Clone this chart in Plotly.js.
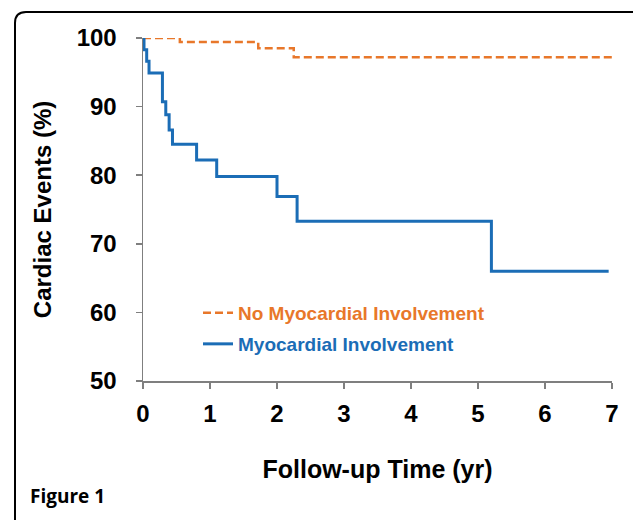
<!DOCTYPE html>
<html>
<head>
<meta charset="utf-8">
<script src="https://cdn.plot.ly/plotly-3.0.1.min.js"></script>
<style>
html,body{margin:0;padding:0;background:#fff;}
#chart{width:633px;height:520px;}
</style>
</head>
<body>
<div id="chart"></div>
<script>
// Data
const noInvolvementTime = [0, 0.55, 1.72, 2.25, 7.0];
const noInvolvementPct  = [100, 99.4, 98.5, 97.2, 97.2];

const involvementTime = [0, 0.015, 0.055, 0.09, 0.29, 0.34, 0.39, 0.44, 0.80, 1.10, 2.00, 2.30, 5.20, 6.95];
const involvementPct  = [100, 98.3, 96.6, 94.9, 90.7, 88.8, 86.6, 84.5, 82.2, 79.8, 76.9, 73.3, 66.0, 66.0];

const xTicks = [0, 1, 2, 3, 4, 5, 6, 7];
const yTicks = [50, 60, 70, 80, 90, 100];

const seriesNames = ["No Myocardial Involvement", "Myocardial Involvement"];
const orange = "#E8772A";
const blue = "#1B6DB6";

const FONT = "'Liberation Sans', Arial, sans-serif";

const traces = [
  {
    x: noInvolvementTime, y: noInvolvementPct,
    type: "scatter", mode: "lines",
    line: {shape: "hv", color: orange, width: 2.5, dash: "8px,4px"},
    name: seriesNames[0],
    legend: "legend",
    cliponaxis: false,
    hoverinfo: "skip"
  },
  {
    x: involvementTime, y: involvementPct,
    type: "scatter", mode: "lines",
    line: {shape: "hv", color: blue, width: 3},
    name: seriesNames[1],
    legend: "legend2",
    cliponaxis: false,
    hoverinfo: "skip"
  }
];

// pixel -> paper helpers for the frame
const L = 143, R = 21, T = 38, B = 139, W = 633, H = 520;
const pw = W - L - R, ph = H - T - B;
const px = v => (v - L) / pw;
const py = v => (H - B - v) / ph;

const framePath = "M " + px(15) + "," + py(540) +
  " L " + px(15) + "," + py(23) +
  " Q " + px(15) + "," + py(12) + " " + px(26) + "," + py(12) +
  " L " + px(660) + "," + py(12);

const layout = {
  width: W, height: H,
  margin: {l: L, r: R, t: T, b: B},
  paper_bgcolor: "#ffffff",
  plot_bgcolor: "#ffffff",
  font: {family: FONT, color: "#000"},
  showlegend: true,
  xaxis: {
    range: [0, 7],
    tickvals: xTicks,
    ticktext: xTicks.map(String),
    showgrid: false, zeroline: false,
    showline: true, linecolor: "#7f7f7f", linewidth: 1.5,
    ticks: "outside", ticklen: 6, tickcolor: "#7f7f7f", tickwidth: 1.5,
    tickfont: {family: FONT, size: 24, weight: "bold", color: "#000"},
    ticklabelstandoff: 5,
    automargin: true,
    title: {text: "Follow-up Time (yr)", standoff: 34,
            font: {family: FONT, size: 25, weight: "bold", color: "#000"}}
  },
  yaxis: {
    range: [50, 100],
    tickvals: yTicks,
    ticktext: yTicks.map(String),
    showgrid: false, zeroline: false,
    showline: true, linecolor: "#7f7f7f", linewidth: 1.5,
    ticks: "outside", ticklen: 6, tickcolor: "#7f7f7f", tickwidth: 1.5,
    tickfont: {family: FONT, size: 24, weight: "bold", color: "#000"},
    ticklabelstandoff: 14,
    automargin: true,
    title: {text: "Cardiac Events (%)", standoff: 18,
            font: {family: FONT, size: 24, weight: "bold", color: "#000"}}
  },
  legend: {
    x: px(198), y: py(313), xanchor: "left", yanchor: "middle",
    bgcolor: "rgba(0,0,0,0)", borderwidth: 0,
    font: {family: FONT, size: 19, weight: "bold", color: orange}
  },
  legend2: {
    x: px(198), y: py(344), xanchor: "left", yanchor: "middle",
    bgcolor: "rgba(0,0,0,0)", borderwidth: 0,
    font: {family: FONT, size: 19, weight: "bold", color: blue}
  },
  shapes: [
    {type: "path", xref: "paper", yref: "paper", path: framePath,
     line: {color: "#000", width: 2}, layer: "above"}
  ],
  annotations: [
    {text: "Figure 1", xref: "paper", yref: "paper",
     x: px(28), y: py(496), xanchor: "left", yanchor: "middle",
     showarrow: false,
     font: {family: "'Open Sans', sans-serif", size: 19, weight: "bold", color: "#000"}}
  ]
};

Plotly.newPlot("chart", traces, layout, {displayModeBar: false, staticPlot: true});
</script>
</body>
</html>
